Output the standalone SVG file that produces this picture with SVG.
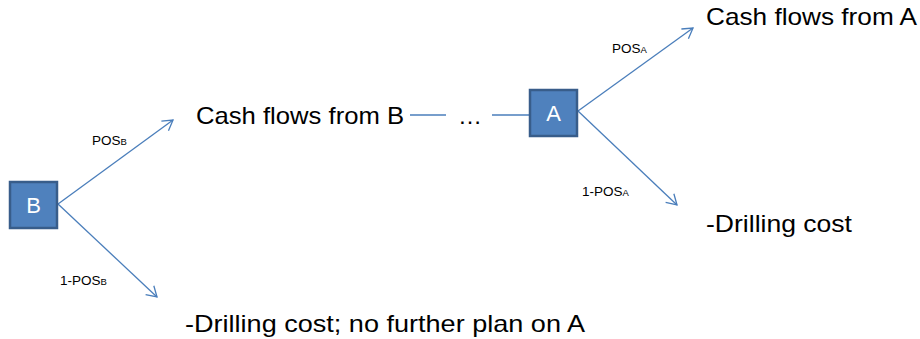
<svg xmlns="http://www.w3.org/2000/svg" width="920" height="339" viewBox="0 0 920 339">
<defs>
<marker id="arr" markerWidth="14" markerHeight="14" refX="11" refY="7" orient="auto" markerUnits="userSpaceOnUse">
<path d="M1,1 L11,7 L1,13" fill="none" stroke="#4A7EBB" stroke-width="1.3"/>
</marker>
<style>
.big{font-family:"Liberation Sans",Arial,sans-serif;font-size:24px;fill:#000}
.sm{font-family:"Liberation Sans",Arial,sans-serif;font-size:13.5px;fill:#000}
.sub{font-size:9.5px}
.box{fill:#4F81BD;stroke:#385D8A;stroke-width:2.5}
.bt{font-family:"Liberation Sans",Arial,sans-serif;font-size:22px;fill:#fff;text-anchor:middle}
.ln{stroke:#4A7EBB;stroke-width:1.3;fill:none}
</style>
</defs>
<g id="connectors">
<line class="ln" x1="58" y1="204" x2="173" y2="120" marker-end="url(#arr)"/>
<line class="ln" x1="58" y1="204" x2="157" y2="297" marker-end="url(#arr)"/>
<line class="ln" x1="410" y1="115" x2="446" y2="115"/>
<line class="ln" x1="492" y1="115" x2="530" y2="115"/>
<line class="ln" x1="578" y1="111" x2="693" y2="28" marker-end="url(#arr)"/>
<line class="ln" x1="578" y1="111" x2="677" y2="205" marker-end="url(#arr)"/>
<text class="sm" x="92" y="145">POS<tspan class="sub">B</tspan></text>
<text class="sm" x="60" y="285">1-POS<tspan class="sub">B</tspan></text>
<text class="sm" x="612" y="53">POS<tspan class="sub">A</tspan></text>
<text class="sm" x="582" y="196">1-POS<tspan class="sub">A</tspan></text>
</g>
<g id="nodeB">
<rect class="box" x="10" y="182" width="47" height="46"/>
<text class="bt" x="33.5" y="213">B</text>
</g>
<g id="nodeA">
<rect class="box" x="530" y="90" width="47" height="46"/>
<text class="bt" x="553.5" y="121">A</text>
</g>
<g id="cashB"><text class="big" x="196" y="124" textLength="208" lengthAdjust="spacingAndGlyphs">Cash flows from B</text></g>
<g id="dots"><text class="big" x="458" y="124">…</text></g>
<g id="cashA"><text class="big" x="706" y="25" textLength="211" lengthAdjust="spacingAndGlyphs">Cash flows from A</text></g>
<g id="drillA"><text class="big" x="706" y="232" textLength="146" lengthAdjust="spacingAndGlyphs">-Drilling cost</text></g>
<g id="drillB"><text class="big" x="185" y="332" textLength="400" lengthAdjust="spacingAndGlyphs">-Drilling cost; no further plan on A</text></g>
</svg>
